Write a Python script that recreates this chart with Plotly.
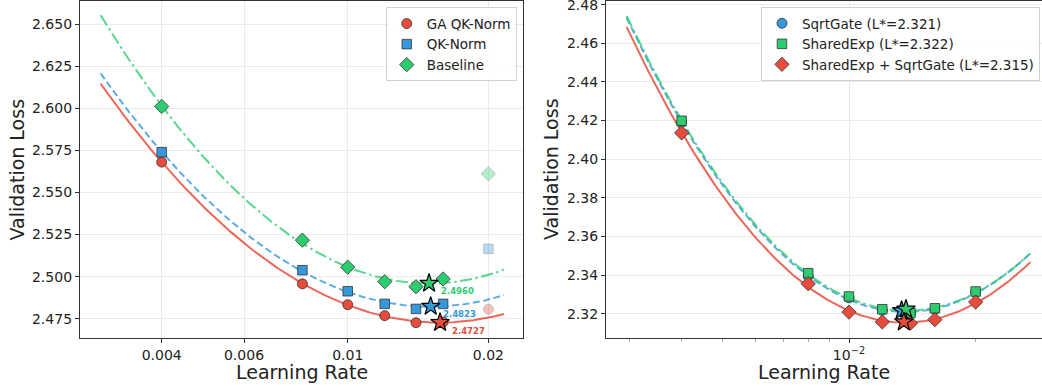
import numpy as np
import plotly.graph_objects as go

# ---------------- data: left panel ----------------
lr_left = [0.004, 0.008, 0.010, 0.012, 0.014, 0.016]
ga_qknorm = [2.5681, 2.4957, 2.4833, 2.4768, 2.4726, 2.4730]
qknorm = [2.5740, 2.5038, 2.4913, 2.4838, 2.4808, 2.4838]
baseline = [2.6012, 2.5217, 2.5056, 2.4970, 2.4940, 2.4986]
lr_left_excluded = [0.02]
ga_qknorm_excluded = [2.4806]
qknorm_excluded = [2.5165]
baseline_excluded = [2.5611]
left_names = ["GA QK-Norm", "QK-Norm", "Baseline"]
left_opt_lr = [0.01576, 0.01505, 0.01493]
left_opt_loss = [2.4727, 2.4823, 2.4960]
left_opt_text = ["2.4727", "2.4823", "2.4960"]
left_xticks = [0.004, 0.006, 0.01, 0.02]
left_xticklabels = ["0.004", "0.006", "0.01", "0.02"]
left_yticks = [2.475, 2.500, 2.525, 2.550, 2.575, 2.600, 2.625, 2.650]

# ---------------- data: right panel ----------------
lr_right = [0.004, 0.008, 0.010, 0.012, 0.014, 0.016, 0.020]
sqrtgate = [2.4190, 2.3395, 2.3282, 2.3218, 2.3200, 2.3222, 2.3310]
sharedexp = [2.4199, 2.3410, 2.3289, 2.3223, 2.3203, 2.3228, 2.3315]
combo = [2.4136, 2.3355, 2.3208, 2.3157, 2.3151, 2.3169, 2.3260]
right_names = ["SqrtGate (L*=2.321)", "SharedExp (L*=2.322)",
               "SharedExp + SqrtGate (L*=2.315)"]
right_opt_lr = [0.01334, 0.01366, 0.01350]
right_opt_loss = [2.3216, 2.3223, 2.3157]
right_xticks = [0.01]
right_xticklabels = ["10<sup>−2</sup>"]
right_minor_ticks = [0.003, 0.004, 0.005, 0.006, 0.007, 0.008, 0.009, 0.02]
right_yticks = [2.32, 2.34, 2.36, 2.38, 2.40, 2.42, 2.44, 2.46, 2.48]

# ---------------- styles ----------------
RED, BLUE, GREEN = "#e74c3c", "#3498db", "#2ecc71"
RED_L, BLUE_L, GREEN_L = "rgba(231,76,60,0.85)", "rgba(52,152,219,0.8)", "rgba(46,204,113,0.8)"
FONT = "DejaVu Sans"
EDGE = dict(color="#333333", width=0.8)
STAR_SIZE = 14


def fit_curve(lr, loss, lo=0.74, hi=1.35, n=200):
    u = np.log10(np.asarray(lr, dtype=float))
    coef = np.polyfit(u, np.asarray(loss, dtype=float), 2)
    grid = np.linspace(np.log10(min(lr) * lo), np.log10(max(lr) * hi), n)
    return 10 ** grid, np.polyval(coef, grid)


fig = go.Figure()

# ---------- left panel ----------
left_series = [ga_qknorm, qknorm, baseline]
left_excl = [ga_qknorm_excluded, qknorm_excluded, baseline_excluded]
left_colors = [RED, BLUE, GREEN]
left_lcolors = [RED_L, BLUE_L, GREEN_L]
left_dash = ["solid", "7px,3.5px", "12px,3.5px,2.5px,3.5px"]
left_sym = ["circle", "square", "diamond"]
left_size = [10, 9.5, 11]

for s, c, lc, d in zip(left_series, left_colors, left_lcolors, left_dash):
    fx, fy = fit_curve(lr_left, s)
    fig.add_trace(go.Scatter(x=fx, y=fy, mode="lines", line=dict(color=lc, width=2, dash=d),
                             showlegend=False, hoverinfo="skip", xaxis="x", yaxis="y"))
for s, ex, c, sym, sz, nm in zip(left_series, left_excl, left_colors, left_sym, left_size, left_names):
    fig.add_trace(go.Scatter(x=lr_left_excluded, y=ex, mode="markers",
                             marker=dict(symbol=sym, size=sz, color=c, line=EDGE), opacity=0.35,
                             showlegend=False, xaxis="x", yaxis="y"))
    fig.add_trace(go.Scatter(x=lr_left, y=s, mode="markers", name=nm,
                             marker=dict(symbol=sym, size=sz, color=c, line=EDGE),
                             legend="legend", xaxis="x", yaxis="y"))
for xo, yo, c in zip(left_opt_lr, left_opt_loss, left_colors):
    fig.add_trace(go.Scatter(x=[xo], y=[yo], mode="markers",
                             marker=dict(symbol="star", size=STAR_SIZE, color=c,
                                         line=dict(color="black", width=1.2)),
                             showlegend=False, xaxis="x", yaxis="y"))
for xo, yo, t, c in zip(left_opt_lr, left_opt_loss, left_opt_text, left_colors):
    fig.add_annotation(x=np.log10(xo), y=yo, xref="x", yref="y", text="<b>%s</b>" % t,
                       showarrow=False, xanchor="left", yanchor="middle", xshift=10, yshift=-8,
                       font=dict(family=FONT, size=8.5, color=c))

# ---------- right panel ----------
right_series = [sqrtgate, sharedexp, combo]
right_colors = [BLUE, GREEN, RED]
right_sym = ["circle", "square", "diamond"]
right_size = [10, 9.5, 11]

for s, lc, d in zip([combo, sqrtgate, sharedexp], [RED_L, BLUE_L, GREEN_L],
                    ["solid", "7px,3.5px", "12px,3.5px,2.5px,3.5px"]):
    fx, fy = fit_curve(lr_right, s)
    fig.add_trace(go.Scatter(x=fx, y=fy, mode="lines", line=dict(color=lc, width=2, dash=d),
                             showlegend=False, hoverinfo="skip", xaxis="x2", yaxis="y2"))
for s, c, sym, sz, nm in zip(right_series, right_colors, right_sym, right_size, right_names):
    fig.add_trace(go.Scatter(x=lr_right, y=s, mode="markers", name=nm,
                             marker=dict(symbol=sym, size=sz, color=c, line=EDGE),
                             legend="legend2", xaxis="x2", yaxis="y2"))
for xo, yo, c in zip(right_opt_lr, right_opt_loss, right_colors):
    fig.add_trace(go.Scatter(x=[xo], y=[yo], mode="markers",
                             marker=dict(symbol="star", size=STAR_SIZE, color=c,
                                         line=dict(color="black", width=1.2)),
                             showlegend=False, xaxis="x2", yaxis="y2"))

axis_common = dict(showline=True, linecolor="#333333", linewidth=1.3, ticks="outside", ticklen=4,
                   tickcolor="#333333", tickfont=dict(family=FONT, size=14, color="#222222"),
                   showgrid=True, gridcolor="#ebebeb", gridwidth=1, zeroline=False, automargin=False,
                   ticklabeloverflow="allow")

fig.update_layout(
    width=1042, height=389,
    margin=dict(l=80, r=0, t=1, b=51, pad=0),
    plot_bgcolor="white", paper_bgcolor="white",
    font=dict(family=FONT, color="#222222"),
    xaxis=dict(domain=[0, 0.4605], type="log", range=[-2.5727, -1.625],
               tickmode="array", tickvals=left_xticks, ticktext=left_xticklabels,
               mirror=True, anchor="y", **axis_common),
    yaxis=dict(domain=[0, 1], range=[2.4635, 2.6639], tickmode="array", tickvals=left_yticks,
               tickformat=".3f", mirror=True, anchor="x", **axis_common),
    xaxis2=dict(domain=[0.5468, 1], type="log", range=[-2.5776, -1.5412],
                tickmode="array", tickvals=right_xticks, ticktext=right_xticklabels,
                minor=dict(tickmode="array", tickvals=right_minor_ticks, ticklen=2.5,
                           tickcolor="#aaaaaa", ticks="outside", showgrid=False),
                mirror=True, anchor="y2", **axis_common),
    yaxis2=dict(domain=[0, 1], range=[2.3074, 2.4819], tickmode="array", tickvals=right_yticks,
                tickformat=".2f", mirror=False, anchor="x2", **axis_common),
    legend=dict(x=0.454, y=0.9813, xanchor="right", yanchor="top", bgcolor="rgba(255,255,255,0.85)",
                bordercolor="#d0d0d0", borderwidth=1, font=dict(family=FONT, size=13.5, color="#222222"),
                tracegroupgap=0),
    legend2=dict(x=0.9979, y=0.9822, xanchor="right", yanchor="top", bgcolor="rgba(255,255,255,0.85)",
                 bordercolor="#d0d0d0", borderwidth=1, font=dict(family=FONT, size=13.5, color="#222222"),
                 tracegroupgap=0),
)

# axis titles
title_font = dict(family=FONT, size=19, color="#222222")
fig.add_annotation(text="Learning Rate", xref="paper", yref="paper", x=0.4605 / 2, y=0,
                   yshift=-34, xanchor="center", yanchor="middle", showarrow=False, font=title_font)
fig.add_annotation(text="Learning Rate", xref="paper", yref="paper", x=(0.5468 + 1) / 2, y=0,
                   yshift=-34, xanchor="center", yanchor="middle", showarrow=False, font=title_font)
fig.add_annotation(text="Validation Loss", xref="paper", yref="paper", x=(16 - 80) / 962, y=0.5,
                   textangle=-90, xanchor="center", yanchor="middle", showarrow=False, font=title_font)
fig.add_annotation(text="Validation Loss", xref="paper", yref="paper", x=(550.5 - 80) / 962, y=0.5,
                   textangle=-90, xanchor="center", yanchor="middle", showarrow=False, font=title_font)

fig.write_html("out.html")
